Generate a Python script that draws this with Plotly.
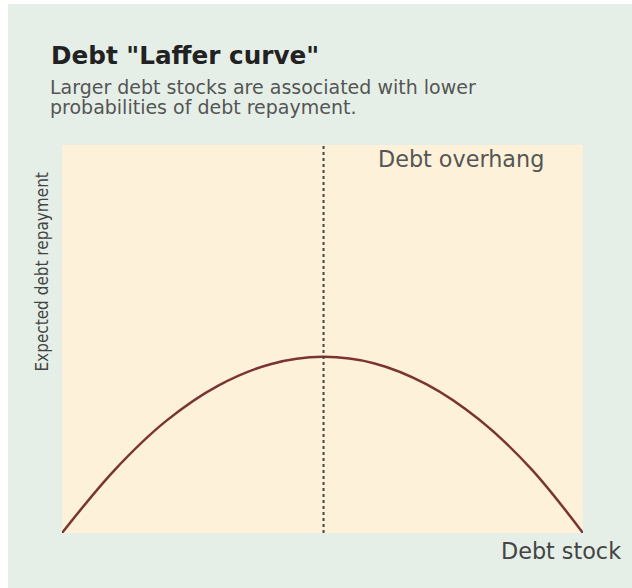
import plotly.graph_objects as go

# Data (arbitrary units)
debt_stock = [0, 1, 2, 3, 4, 5, 6, 7, 8, 9, 10]
expected_repayment = [0.0, 1.61, 2.89, 3.80, 4.35, 4.54, 4.37, 3.83, 2.93, 1.66, 0.0]
overhang_x = 5.02

title_text = 'Debt "Laffer curve"'
subtitle_lines = ["Larger debt stocks are associated with lower",
                  "probabilities of debt repayment."]
y_label = "Expected debt repayment"
x_label = "Debt stock"
region_label = "Debt overhang"

BG = "#e5efe7"
PLOT_BG = "#fdf2d9"
CURVE = "#7a3434"
FONT = "DejaVu Sans, Liberation Sans, Arial, sans-serif"

fig = go.Figure()
fig.add_trace(go.Scatter(
    x=debt_stock, y=expected_repayment, mode="lines",
    line=dict(color=CURVE, width=2.5, shape="spline", smoothing=1.0),
    hoverinfo="skip", showlegend=False,
))

fig.add_shape(type="line", xref="x", yref="paper", x0=overhang_x, x1=overhang_x, y0=0, y1=1,
              line=dict(color="#444444", width=2, dash="dot"))

annotations = [
    dict(text="<b>" + title_text + "</b>", x=-0.025, y=1.273, xanchor="left", yanchor="top",
         font=dict(family=FONT, size=24.7, color="#222222")),
    dict(text=subtitle_lines[0], x=-0.027, y=1.183, xanchor="left", yanchor="top",
         font=dict(family=FONT, size=19, color="#555555")),
    dict(text=subtitle_lines[1], x=-0.027, y=1.131, xanchor="left", yanchor="top",
         font=dict(family=FONT, size=19, color="#555555")),
    dict(text=region_label, x=0.603, y=1.003, xanchor="left", yanchor="top",
         font=dict(family=FONT, size=22.3, color="#555555")),
    dict(text=x_label, x=0.839, y=-0.008, xanchor="left", yanchor="top",
         font=dict(family=FONT, size=22.3, color="#444444")),
    dict(text=y_label, x=-0.016, y=0.673, xanchor="right", yanchor="middle", textangle=-90,
         font=dict(family="Liberation Sans Narrow, DejaVu Sans Condensed, Roboto Condensed, sans-serif",
                   size=17, color="#444444")),
]
for a in annotations:
    a.update(xref="paper", yref="paper", showarrow=False)

fig.update_layout(
    width=624, height=584,
    margin=dict(l=54, r=49, t=141, b=55),
    paper_bgcolor=BG, plot_bgcolor=PLOT_BG,
    annotations=annotations,
    xaxis=dict(range=[0, 10], showgrid=False, zeroline=False, showticklabels=False, ticks="", fixedrange=True),
    yaxis=dict(range=[0, 10], showgrid=False, zeroline=False, showticklabels=False, ticks="", fixedrange=True),
)

fig.write_html("out.html", post_script="document.body.style.margin='4px 0 0 8px';")
